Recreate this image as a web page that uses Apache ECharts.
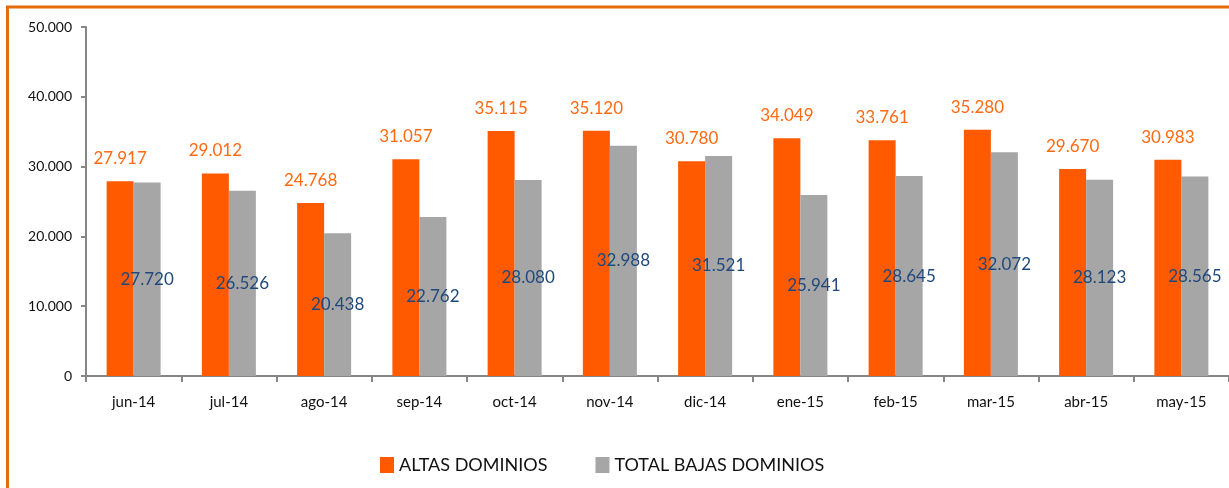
<!DOCTYPE html>
<html>
<head>
<meta charset="utf-8">
<title>Altas y bajas de dominios</title>
<script src="https://cdn.jsdelivr.net/npm/echarts@6/dist/echarts.min.js"></script>
<style>
  html, body { margin: 0; padding: 0; background: #fff; }
  #chart { width: 1229px; height: 488px; }
</style>
</head>
<body>
<div id="chart"></div>
<script>
// meses
var months = ['jun-14', 'jul-14', 'ago-14', 'sep-14', 'oct-14', 'nov-14', 'dic-14', 'ene-15', 'feb-15', 'mar-15', 'abr-15', 'may-15'];
var altas = [27917, 29012, 24768, 31057, 35115, 35120, 30780, 34049, 33761, 35280, 29670, 30983];
var bajas = [27720, 26526, 20438, 22762, 28080, 32988, 31521, 25941, 28645, 32072, 28123, 28565];
var seriesNames = ['ALTAS DOMINIOS', 'TOTAL BAJAS DOMINIOS'];

var FONT = 'Lato, "DejaVu Sans", sans-serif';

// 27917 -> "27.917"
function fmt(v) {
    return String(v).replace(/\B(?=(\d{3})+(?!\d))/g, '.');
}

var myChart = echarts.init(document.getElementById('chart'));
var option = {
    animation: false,
    textStyle: { fontFamily: FONT },
    graphic: [{
        type: 'rect',
        shape: { x: 7.5, y: 7, width: 1400, height: 700 },
        style: { fill: 'none', stroke: '#E46C0A', lineWidth: 3 },
        silent: true
    }],
    grid: { left: 86, top: 27, bottom: 112, right: -5 },
    legend: {
        left: 375,
        top: 451,
        icon: 'rect',
        itemWidth: 14,
        itemHeight: 16,
        itemGap: 48,
        textStyle: { fontSize: 18, color: '#111', fontFamily: FONT },
        data: seriesNames
    },
    xAxis: {
        type: 'category',
        data: months,
        axisLine: { lineStyle: { color: '#868686', width: 2 } },
        axisTick: { show: true, length: 6, lineStyle: { color: '#868686', width: 2 } },
        axisLabel: { color: '#111', fontSize: 15, margin: 19 }
    },
    yAxis: {
        type: 'value',
        min: 0,
        max: 50000,
        interval: 10000,
        axisLine: { show: true, lineStyle: { color: '#868686', width: 2 } },
        axisTick: { show: true, length: 5, lineStyle: { color: '#868686', width: 2 } },
        splitLine: { show: false },
        axisLabel: { color: '#111', fontSize: 14, margin: 14, formatter: fmt }
    },
    series: [
        {
            name: seriesNames[0],
            type: 'bar',
            data: altas,
            barWidth: 27,
            barGap: '0%',
            itemStyle: { color: '#FF5A00' },
            label: {
                show: true,
                position: 'top',
                distance: 14,
                color: '#FF6A13',
                fontSize: 17,
                formatter: function (p) { return fmt(p.value); }
            }
        },
        {
            name: seriesNames[1],
            type: 'bar',
            data: bajas,
            barWidth: 27,
            itemStyle: { color: '#A6A6A6' },
            label: {
                show: true,
                position: 'inside',
                color: '#1F497D',
                fontSize: 17,
                formatter: function (p) { return fmt(p.value); }
            }
        }
    ]
};
myChart.setOption(option);
</script>
</body>
</html>
